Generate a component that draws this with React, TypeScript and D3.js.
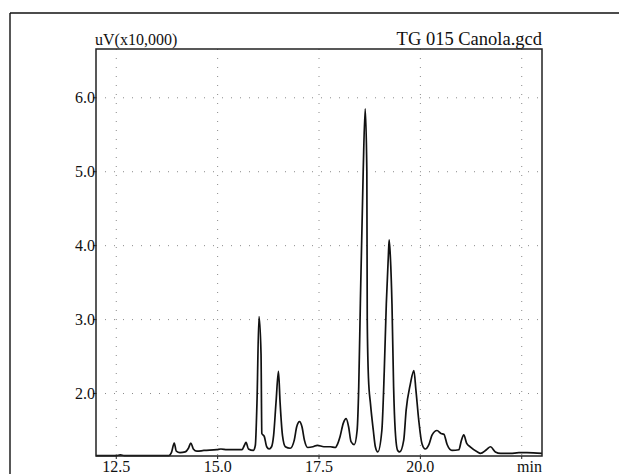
import React from "react";
import * as d3 from "d3";

const times = [
  12.0, 12.5, 12.6, 12.7, 13.0, 13.5, 13.8, 13.86, 13.93, 13.98, 14.07, 14.2, 14.28, 14.34, 14.4, 14.49,
  14.66, 14.98, 15.08, 15.23, 15.6, 15.66, 15.7, 15.76, 15.88, 15.93, 15.97, 16.02, 16.07, 16.09, 16.15,
  16.21, 16.27, 16.33, 16.38, 16.44, 16.5, 16.54, 16.6, 16.67, 16.79, 16.89, 16.95, 17.02, 17.08, 17.14,
  17.22, 17.35, 17.46, 17.62, 17.78, 17.9, 17.96, 18.02, 18.1, 18.17, 18.23, 18.29, 18.37, 18.44, 18.48,
  18.52, 18.59, 18.64, 18.68, 18.69, 18.72, 18.77, 18.84, 18.89, 18.95, 19.05, 19.11, 19.16, 19.21, 19.23,
  19.26, 19.3, 19.34, 19.38, 19.44, 19.49, 19.59, 19.65, 19.75, 19.84, 19.89, 19.96, 20.04, 20.12, 20.21,
  20.29, 20.41, 20.51, 20.58, 20.66, 20.78, 20.95, 21.01, 21.07, 21.14, 21.23, 21.41, 21.48, 21.63, 21.73,
  21.85, 21.98, 22.22, 22.43, 22.63, 23.0,
];
const signal = [
  1.16, 1.16, 1.17, 1.16, 1.16, 1.16, 1.16, 1.2, 1.33, 1.22, 1.2, 1.21, 1.26, 1.33, 1.25, 1.22,
  1.23, 1.24, 1.25, 1.24, 1.24, 1.3, 1.34, 1.25, 1.23, 1.3, 1.87, 3.04, 2.54, 1.46, 1.42,
  1.28, 1.25, 1.28, 1.43, 1.88, 2.3, 1.88, 1.43, 1.28, 1.26, 1.37, 1.55, 1.62, 1.55, 1.37,
  1.27, 1.28, 1.3, 1.28, 1.28, 1.27, 1.32, 1.42, 1.6, 1.66, 1.55, 1.35, 1.31, 1.5, 2.09,
  3.22, 5.0, 5.85, 5.0, 3.0, 2.21, 1.86, 1.5, 1.28, 1.21, 1.5, 2.31, 3.21, 3.85, 4.08,
  3.85, 3.21, 2.09, 1.5, 1.23, 1.21, 1.37, 1.78, 2.12, 2.31, 2.05, 1.64, 1.32, 1.25, 1.31,
  1.44, 1.5, 1.46, 1.45, 1.31, 1.23, 1.24, 1.36, 1.44, 1.33, 1.28, 1.21, 1.19, 1.24, 1.28,
  1.21, 1.19, 1.19, 1.2, 1.2, 1.19,
];

const xTicks = [12.5, 15.0, 17.5, 20.0, 22.5];
const xTickLabels = ["12.5", "15.0", "17.5", "20.0", ""];
const yTicks = [2.0, 3.0, 4.0, 5.0, 6.0];
const yTickLabels = ["2.0", "3.0", "4.0", "5.0", "6.0"];
const yUnitLabel = "uV(x10,000)";
const titleLabel = "TG 015 Canola.gcd";
const xUnitLabel = "min";

const X_DOMAIN: [number, number] = [12.0, 23.0];
const Y_DOMAIN: [number, number] = [1.155, 6.66];

export default function App() {
  const W = 619;
  const H = 474;
  const left = 96, right = 542, top = 49, bottom = 456;
  const x = d3.scaleLinear().domain(X_DOMAIN).range([left, right]);
  const y = d3.scaleLinear().domain(Y_DOMAIN).range([bottom, top]);
  const pts = times.map((t, i) => [t, signal[i]] as [number, number]);
  const line = d3
    .line<[number, number]>()
    .x((d) => x(d[0]))
    .y((d) => y(d[1]))
    .curve(d3.curveMonotoneX);
  const font = "'Liberation Serif', 'Times New Roman', serif";

  return (
    <svg
      width={W}
      height={H}
      style={{ position: "absolute", left: 0, top: 0, background: "#fff" }}
      fontFamily={font}
    >
      <rect x={0} y={0} width={W} height={H} fill="#fff" />
      {/* outer page border */}
      <line x1={10} y1={13} x2={W} y2={13} stroke="#111" strokeWidth={1.4} />
      <line x1={10} y1={13} x2={10} y2={H} stroke="#111" strokeWidth={1.4} />

      {/* grid */}
      {xTicks.map((t) => (
        <line
          key={"gx" + t}
          x1={x(t)}
          x2={x(t)}
          y1={top}
          y2={bottom}
          stroke="#8a8a8a"
          strokeWidth={1}
          strokeDasharray="1,8"
        />
      ))}
      {yTicks.map((t) => (
        <line
          key={"gy" + t}
          x1={left}
          x2={right}
          y1={y(t)}
          y2={y(t)}
          stroke="#8a8a8a"
          strokeWidth={1}
          strokeDasharray="1,8"
        />
      ))}

      {/* trace */}
      <path d={line(pts) || ""} fill="none" stroke="#111" strokeWidth={1.7} strokeLinejoin="round" />

      {/* frame */}
      <rect x={left} y={top} width={right - left} height={bottom - top} fill="none" stroke="#222" strokeWidth={1.5} />

      {/* y ticks */}
      {yTicks.map((t, i) => (
        <g key={"yt" + t}>
          <line x1={left - 3} x2={left} y1={y(t)} y2={y(t)} stroke="#222" />
          <text x={left - 1} y={y(t)} dy="0.35em" textAnchor="end" fontSize={16} fill="#111">
            {yTickLabels[i]}
          </text>
        </g>
      ))}

      {/* x ticks */}
      {xTicks.map((t, i) => (
        <g key={"xt" + t}>
          <line x1={x(t)} x2={x(t)} y1={bottom} y2={bottom + 3} stroke="#222" />
          <text x={x(t)} y={472} textAnchor="middle" fontSize={16} fill="#111">
            {xTickLabels[i]}
          </text>
        </g>
      ))}
      <text x={right} y={472} textAnchor="end" fontSize={16} fill="#111">
        {xUnitLabel}
      </text>

      <text x={left - 1} y={45} fontSize={16} fill="#111">
        {yUnitLabel}
      </text>
      <text x={right} y={45} textAnchor="end" fontSize={18.5} fill="#111">
        {titleLabel}
      </text>
    </svg>
  );
}
